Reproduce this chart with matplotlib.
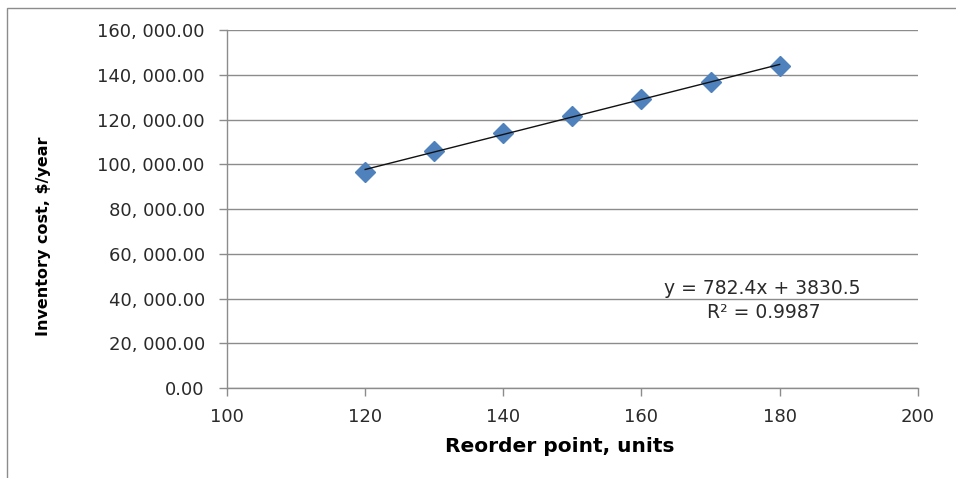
import numpy as np
import matplotlib
matplotlib.use("Agg")
import matplotlib.pyplot as plt
from matplotlib.ticker import FuncFormatter
from matplotlib.patches import Rectangle

# Reorder point vs. yearly inventory cost, with the linear trendline
reorder_point = [120, 130, 140, 150, 160, 170, 180]
inventory_cost = [96800, 106000, 114000, 121700, 129200, 137000, 143800]

# trendline from the fitted equation
slope = 782.4
intercept = 3830.5
r_squared = 0.9987

fig = plt.figure(figsize=(9.56, 4.78), dpi=100)
ax = fig.add_axes([0.2375, 0.188, 0.7225, 0.749])

grid_col = "#8c8c8c"
ax.set_xlim(100, 200)
ax.set_ylim(0, 160000)
ax.set_xticks(np.arange(100, 201, 20))
ax.set_yticks(np.arange(0, 160001, 20000))
ax.yaxis.set_major_formatter(FuncFormatter(lambda v, p: f"{v:,.2f}".replace(",", ", ")))
ax.grid(axis="y", color=grid_col, linewidth=1.0)
ax.set_axisbelow(True)

for side in ["top", "right"]:
    ax.spines[side].set_visible(False)
for side in ["left", "bottom"]:
    ax.spines[side].set_color(grid_col)
    ax.spines[side].set_linewidth(1.0)
ax.tick_params(axis="both", colors=grid_col, length=6, width=1.0,
               labelcolor="#2a2a2a", labelsize=13)
ax.tick_params(axis="y", pad=10)
ax.tick_params(axis="x", pad=8)

xs = np.array([reorder_point[0], reorder_point[-1]])
ax.plot(xs, slope * xs + intercept, color="#111111", linewidth=1.0, zorder=3)
ax.plot(reorder_point, inventory_cost, linestyle="none", marker="D",
        markersize=10.5, color="#4f81bd", markeredgecolor="#4f81bd", zorder=2)

fig.text(0.797, 0.397, f"y = {slope}x + {intercept}",
         ha="center", va="center", fontsize=13.5, color="#2a2a2a")
fig.text(0.799, 0.347, f"R² = {r_squared}",
         ha="center", va="center", fontsize=13.5, color="#2a2a2a")

fig.text(0.586, 0.065, "Reorder point, units", ha="center", va="center",
         fontsize=14.5, fontweight="bold")
fig.text(0.045, 0.506, "Inventory cost, $/year", ha="center", va="center",
         rotation=90, fontsize=11.5, fontweight="bold")

# outer chart frame, cut off at the right and bottom edges
fig.patches.append(Rectangle((7 / 956, -0.1), 1.2, 1 - 8 / 478 + 0.1,
                             transform=fig.transFigure, fill=False,
                             edgecolor="#8c8c8c", linewidth=1.0))

fig.savefig("out.png", dpi=100)
